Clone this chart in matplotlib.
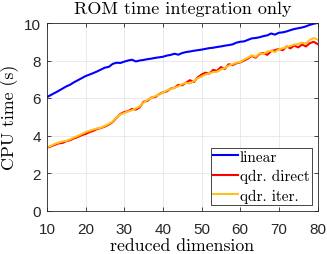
import matplotlib
matplotlib.use("Agg")
import matplotlib.pyplot as plt
import numpy as np

dims = list(range(10, 81))

linear = [6.05, 6.16, 6.27, 6.38, 6.50, 6.62, 6.71, 6.84, 6.95, 7.06,
          7.17, 7.25, 7.33, 7.42, 7.52, 7.62, 7.66, 7.82, 7.88, 7.87,
          7.94, 8.00, 8.04, 7.95, 8.00, 8.03, 8.07, 8.10, 8.14, 8.17,
          8.20, 8.26, 8.30, 8.36, 8.31, 8.40, 8.45, 8.48, 8.52, 8.55,
          8.58, 8.62, 8.66, 8.68, 8.72, 8.75, 8.79, 8.82, 8.86, 8.95,
          9.00, 9.02, 9.10, 9.18, 9.20, 9.24, 9.30, 9.34, 9.44, 9.38,
          9.48, 9.50, 9.55, 9.62, 9.68, 9.72, 9.76, 9.82, 9.90, 9.96,
          10.00]

qdr_direct = [3.35, 3.42, 3.50, 3.58, 3.60, 3.70, 3.75, 3.85, 3.92, 4.02,
              4.08, 4.18, 4.25, 4.35, 4.40, 4.48, 4.58, 4.72, 4.95, 5.15,
              5.25, 5.30, 5.42, 5.38, 5.50, 5.80, 5.85, 6.02, 6.05, 6.20,
              6.30, 6.35, 6.50, 6.55, 6.70, 6.68, 6.82, 6.95, 6.85, 7.10,
              7.25, 7.35, 7.30, 7.50, 7.45, 7.65, 7.55, 7.80, 7.75, 7.85,
              7.90, 8.00, 8.10, 8.25, 8.15, 8.35, 8.40, 8.30, 8.50, 8.55,
              8.62, 8.55, 8.75, 8.65, 8.80, 8.70, 8.85, 8.75, 8.92, 9.00,
              8.88]

qdr_iter = [3.38, 3.45, 3.55, 3.62, 3.68, 3.72, 3.80, 3.90, 3.98, 4.08,
            4.18, 4.25, 4.32, 4.38, 4.42, 4.52, 4.62, 4.75, 4.98, 5.12,
            5.20, 5.28, 5.35, 5.45, 5.55, 5.75, 5.90, 6.00, 6.10, 6.18,
            6.28, 6.40, 6.48, 6.55, 6.62, 6.75, 6.80, 6.78, 6.90, 7.05,
            7.15, 7.25, 7.32, 7.38, 7.40, 7.52, 7.60, 7.72, 7.80, 7.88,
            7.92, 8.05, 8.15, 8.28, 8.20, 8.38, 8.35, 8.48, 8.52, 8.45,
            8.60, 8.65, 8.72, 8.78, 8.85, 8.88, 8.95, 8.90, 9.10, 9.20,
            9.12]

labels = ["linear", "qdr. direct", "qdr. iter."]
colors = ["#0000FF", "#FF0000", "#FFC21A"]

serif = "cmr10"
sans = "Liberation Sans"

fig = plt.figure(figsize=(3.27, 2.55), dpi=100)
ax = fig.add_axes([47/327, 1-211.5/255, 270.5/327, 187.5/255])

for ys, lab, c in zip([linear, qdr_direct, qdr_iter], labels, colors):
    ax.plot(dims, ys, color=c, lw=1.5, label=lab)

ax.set_xlim(10, 80)
ax.set_ylim(0, 10)
ax.set_xticks(range(10, 81, 10))
ax.set_yticks(range(0, 11, 2))
ax.grid(True, color="#e6e6e6", lw=0.6)
ax.set_axisbelow(True)
for s in ax.spines.values():
    s.set_color("#262626")
    s.set_linewidth(0.6)
ax.tick_params(direction="in", length=3, width=0.6, colors="#262626",
               top=True, right=True, labelsize=11)
ax.tick_params(axis="x", pad=8)
ax.tick_params(axis="y", pad=4.5)
for t in ax.get_xticklabels() + ax.get_yticklabels():
    t.set_fontfamily(sans)
    t.set_color("#262626")

ax.set_title("ROM time integration only", fontfamily=serif, fontsize=13, pad=7)
ax.set_xlabel("reduced dimension", fontfamily=serif, fontsize=12.8, labelpad=1.5)
ax.set_ylabel("CPU time (s)", fontfamily=serif, fontsize=12.8, labelpad=3.5)

leg = ax.legend(loc="lower right", prop={"family": serif, "size": 11},
                handlelength=1.64, handletextpad=0.1, borderpad=0.15,
                labelspacing=0.35, fancybox=False, framealpha=1,
                edgecolor="#262626", borderaxespad=0.36)
leg.get_frame().set_linewidth(0.6)

fig.savefig("out.png", dpi=100)
